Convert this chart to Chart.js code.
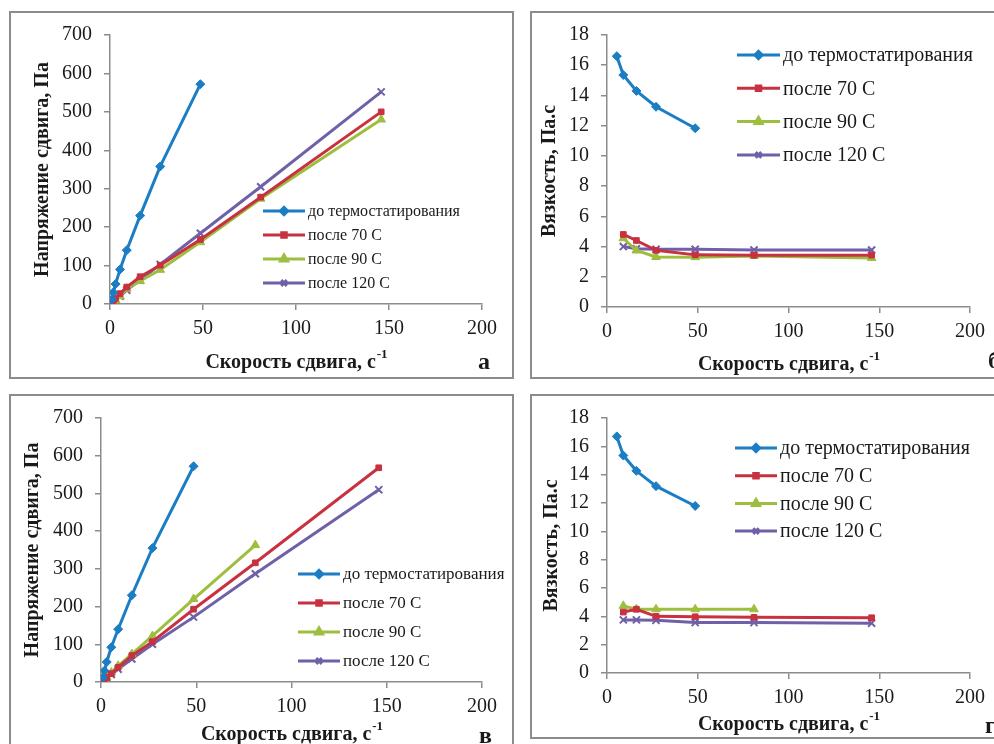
<!DOCTYPE html>
<html>
<head>
<meta charset="utf-8">
<script src="https://cdn.jsdelivr.net/npm/chart.js@4.4.0/dist/chart.umd.min.js"></script>
<style>
body { margin: 0; background: #fff; width: 994px; height: 744px; overflow: hidden; position: relative; }
.box { position: absolute; border: 2px solid #8c8c8c; box-sizing: border-box; }
canvas { position: absolute; }
</style>
</head>
<body>
<div class="box" style="left:9px;top:11px;width:505px;height:368px"></div>
<div class="box" style="left:530px;top:11px;width:480px;height:368px"></div>
<div class="box" style="left:9px;top:394px;width:505px;height:370px"></div>
<div class="box" style="left:530px;top:394px;width:480px;height:345px"></div>
<canvas id="ca" width="501" height="364" style="left:11px;top:13px"></canvas>
<canvas id="cb" width="462" height="364" style="left:532px;top:13px"></canvas>
<canvas id="cc" width="501" height="348" style="left:11px;top:396px"></canvas>
<canvas id="cd" width="462" height="341" style="left:532px;top:396px"></canvas>
<script>
// shear rates, 1/s
const rateTau = [1, 1.8, 3, 5.4, 9, 16.2, 27, 48.6, 81, 145.8];
const rateEta = [5.4, 9, 16.2, 27, 48.6, 81, 145.8];

const seriesNames = ['до термостатирования', 'после 70 С', 'после 90 С', 'после 120 С'];

// panel а: shear stress, Pa
const tauA_before = [12, 30, 52, 90, 140, 230, 358, 572];
const tauA_70 = [5, 9, 15, 27, 44, 71, 101, 168, 278, 500];
const tauA_90 = [3, 6, 10, 20, 40, 60, 89, 161, 274, 480];
const tauA_120 = [3, 6, 11, 20, 36, 62, 103, 184, 305, 552];

// panel б: viscosity, Pa.s
const etaB_before = [16.6, 15.35, 14.3, 13.25, 11.83];
const etaB_70 = [4.8, 4.4, 3.75, 3.45, 3.42, 3.43];
const etaB_90 = [4.55, 3.74, 3.31, 3.3, 3.38, 3.25];
const etaB_120 = [4.0, 3.85, 3.82, 3.82, 3.77, 3.77];

// panel в: shear stress, Pa
const tauC_before = [12, 30, 53, 92, 140, 230, 355, 572];
const tauC_70 = [4, 8, 12, 22, 39, 70, 107, 193, 316, 568];
const tauC_90 = [5, 8, 13, 25, 43, 74, 122, 220, 363];
const tauC_120 = [3, 6, 11, 20, 34, 61, 100, 172, 287, 510];

// panel г: viscosity, Pa.s
const etaD_before = [16.7, 15.35, 14.27, 13.19, 11.79];
const etaD_70 = [4.3, 4.5, 4.0, 3.97, 3.93, 3.9];
const etaD_90 = [4.74, 4.5, 4.5, 4.5, 4.5];
const etaD_120 = [3.75, 3.75, 3.72, 3.56, 3.56, 3.52];

const colors = ['#1b7dc4', '#c8313f', '#9dbe3f', '#7060a8'];
const marks = ['rectRot', 'rect', 'triangle', 'crossRot'];
const radii = [4.5, 4, 5, 5];
const serif = 'Liberation Serif';
const axisGray = '#8c8c8c';

function pts(xs, ys) {
    return ys.map((y, i) => ({x: xs[i], y: y}));
}

function datasets(list) {
    return list.map((d, i) => ({
        label: seriesNames[i],
        data: d,
        borderColor: colors[i],
        backgroundColor: colors[i],
        borderWidth: 3,
        pointStyle: marks[i],
        pointRadius: radii[i],
        pointBorderWidth: i == 3 ? 2 : 1,
        tension: 0
    }));
}

const panelText = {
    id: 'panelText',
    afterDraw(chart, args, o) {
        const ctx = chart.ctx, a = chart.chartArea;
        ctx.save();
        ctx.fillStyle = '#1a1a1a';
        ctx.font = 'bold 20px "' + serif + '"';
        ctx.textAlign = 'center';
        ctx.textBaseline = 'middle';
        ctx.translate(o.yTitleX, (a.top + a.bottom) / 2);
        ctx.rotate(-Math.PI / 2);
        ctx.fillText(o.yTitle, 0, 0);
        ctx.restore();

        ctx.save();
        ctx.fillStyle = '#1a1a1a';
        ctx.textBaseline = 'middle';
        ctx.textAlign = 'left';
        const main = 'Скорость сдвига, с', sup = '-1';
        ctx.font = 'bold 20px "' + serif + '"';
        const w1 = ctx.measureText(main).width;
        ctx.font = 'bold 13px "' + serif + '"';
        const w2 = ctx.measureText(sup).width;
        const x0 = (a.left + a.right) / 2 - (w1 + w2) / 2;
        ctx.font = 'bold 20px "' + serif + '"';
        ctx.fillText(main, x0, o.xTitleY);
        ctx.font = 'bold 13px "' + serif + '"';
        ctx.fillText(sup, x0 + w1 + 1, o.xTitleY - 8);

        ctx.font = 'bold 24px "' + serif + '"';
        ctx.fillText(o.letter, o.letterX, o.letterY);

        const lg = o.legend;
        chart.data.datasets.forEach((ds, i) => {
            const y = lg.y + i * lg.dy;
            ctx.strokeStyle = ds.borderColor;
            ctx.fillStyle = ds.borderColor;
            ctx.lineWidth = 3;
            ctx.beginPath();
            ctx.moveTo(lg.x, y);
            ctx.lineTo(lg.x + lg.len, y);
            ctx.stroke();
            Chart.helpers.drawPoint(ctx, {pointStyle: ds.pointStyle, radius: ds.pointRadius * 0.8, borderWidth: ds.pointBorderWidth, rotation: 0}, lg.x + lg.len / 2, y);
            ctx.fillStyle = '#1a1a1a';
            ctx.font = lg.size + 'px "' + serif + '"';
            ctx.fillText(ds.label, lg.x + lg.len + 3, y + 1);
        });
        ctx.restore();
    }
};

function makeChart(id, sets, yMax, yStep, box, text) {
    return new Chart(document.getElementById(id), {
        type: 'line',
        data: {datasets: datasets(sets)},
        options: {
            responsive: false,
            animation: false,
            devicePixelRatio: 1,
            layout: {padding: {left: 0, top: box.top, right: box.right, bottom: 0}},
            plugins: {legend: {display: false}, tooltip: {enabled: false}, panelText: text},
            scales: {
                x: {
                    type: 'linear', min: 0, max: 200,
                    ticks: {stepSize: 50, color: '#1a1a1a', font: {family: serif, size: 20, lineHeight: 1}, padding: 9, maxRotation: 0},
                    grid: {drawOnChartArea: false, tickLength: 6, color: axisGray, lineWidth: 1.5},
                    border: {color: axisGray, width: 1.5},
                    afterFit(s) { s.height = box.xh; }
                },
                y: {
                    type: 'linear', min: 0, max: yMax,
                    ticks: {stepSize: yStep, color: '#1a1a1a', font: {family: serif, size: 20, lineHeight: 1}, padding: 12},
                    grid: {drawOnChartArea: false, tickLength: 6, color: axisGray, lineWidth: 1.5},
                    border: {color: axisGray, width: 1.5},
                    afterFit(s) { s.width = box.yw; }
                }
            }
        },
        plugins: [panelText]
    });
}

makeChart('ca', [
    pts(rateTau, tauA_before), pts(rateTau, tauA_70), pts(rateTau, tauA_90), pts(rateTau, tauA_120)
], 700, 100, {top: 10, right: 30, xh: 73, yw: 99}, {
    yTitle: 'Напряжение сдвига, Па', yTitleX: 32, xTitleY: 350,
    letter: 'а', letterX: 467, letterY: 350,
    legend: {x: 252, y: 198, dy: 24, len: 42, size: 16}
});

makeChart('cb', [
    pts(rateEta, etaB_before), pts(rateEta.slice(1), etaB_70), pts(rateEta.slice(1), etaB_90), pts(rateEta.slice(1), etaB_120)
], 18, 2, {top: 10, right: 16, xh: 70, yw: 75}, {
    yTitle: 'Вязкость, Па.с', yTitleX: 18, xTitleY: 352,
    letter: 'б', letterX: 456, letterY: 349,
    legend: {x: 205, y: 42, dy: 33.3, len: 43, size: 20}
});

makeChart('cc', [
    pts(rateTau, tauC_before), pts(rateTau, tauC_70), pts(rateTau, tauC_90), pts(rateTau, tauC_120)
], 700, 100, {top: 11, right: 30, xh: 62, yw: 90}, {
    yTitle: 'Напряжение сдвига, Па', yTitleX: 22, xTitleY: 339,
    letter: 'в', letterX: 468, letterY: 341,
    legend: {x: 287, y: 178, dy: 29, len: 42, size: 17}
});

makeChart('cd', [
    pts(rateEta, etaD_before), pts(rateEta.slice(1), etaD_70), pts(rateEta.slice(1), etaD_90), pts(rateEta.slice(1), etaD_120)
], 18, 2, {top: 11, right: 16, xh: 64, yw: 75}, {
    yTitle: 'Вязкость, Па.с', yTitleX: 20, xTitleY: 329,
    letter: 'г', letterX: 453, letterY: 331,
    legend: {x: 203, y: 52, dy: 27.7, len: 42, size: 20}
});
</script>
</body>
</html>
